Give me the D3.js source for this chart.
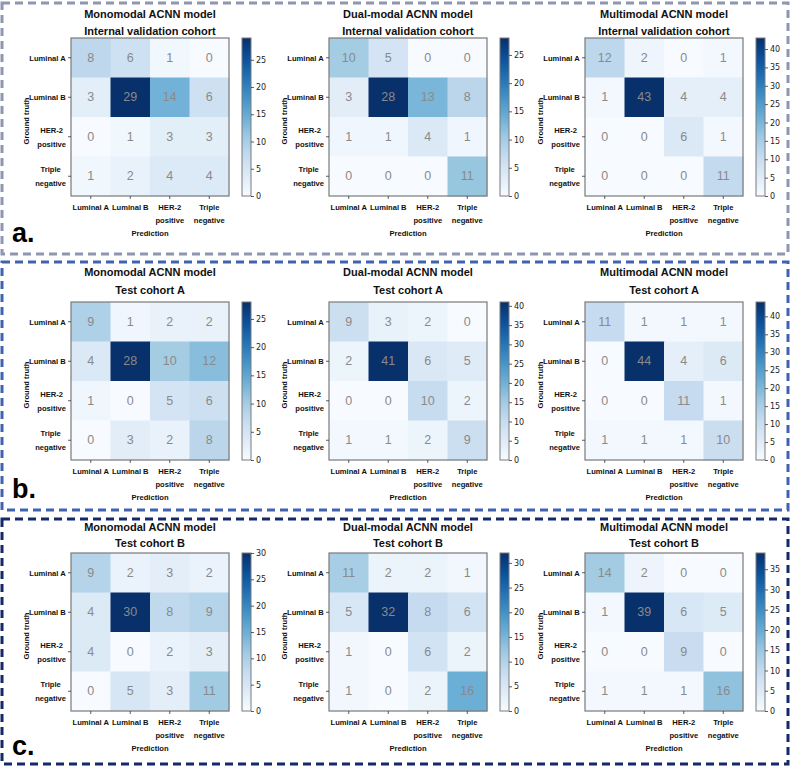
<!DOCTYPE html>
<html>
<head>
<meta charset="utf-8">
<script src="https://cdn.jsdelivr.net/npm/d3@7"></script>
<style>
  html, body { margin: 0; padding: 0; background: #fff; }
  svg { display: block; font-family: "Liberation Sans", Arial, sans-serif; }
</style>
</head>
<body>
<svg id="chart" width="791" height="768"></svg>
<script>
// ---------------- DATA ----------------
const categories = ["Luminal A", "Luminal B", "HER-2\npositive", "Triple\nnegative"];
const modelNames = ["Monomodal ACNN model", "Dual-modal ACNN model", "Multimodal ACNN model"];
const cohortNames = ["Internal validation cohort", "Test cohort A", "Test cohort B"];
const panelLetters = ["a.", "b.", "c."];
const xAxisTitle = "Prediction";
const yAxisTitle = "Ground truth";

const monoInternal  = [[8, 6, 1, 0], [3, 29, 14, 6], [0, 1, 3, 3], [1, 2, 4, 4]];
const dualInternal  = [[10, 5, 0, 0], [3, 28, 13, 8], [1, 1, 4, 1], [0, 0, 0, 11]];
const multiInternal = [[12, 2, 0, 1], [1, 43, 4, 4], [0, 0, 6, 1], [0, 0, 0, 11]];

const monoTestA  = [[9, 1, 2, 2], [4, 28, 10, 12], [1, 0, 5, 6], [0, 3, 2, 8]];
const dualTestA  = [[9, 3, 2, 0], [2, 41, 6, 5], [0, 0, 10, 2], [1, 1, 2, 9]];
const multiTestA = [[11, 1, 1, 1], [0, 44, 4, 6], [0, 0, 11, 1], [1, 1, 1, 10]];

const monoTestB  = [[9, 2, 3, 2], [4, 30, 8, 9], [4, 0, 2, 3], [0, 5, 3, 11]];
const dualTestB  = [[11, 2, 2, 1], [5, 32, 8, 6], [1, 0, 6, 2], [1, 0, 2, 16]];
const multiTestB = [[14, 2, 0, 0], [1, 39, 6, 5], [0, 0, 9, 0], [1, 1, 1, 16]];

const matrices = [
  [monoInternal, dualInternal, multiInternal],
  [monoTestA, dualTestA, multiTestA],
  [monoTestB, dualTestB, multiTestB]
];
const colorbarStep = 5;

// ---------------- STYLE / LAYOUT ----------------
const bluesStops = ["#f7fbff","#deebf7","#c6dbef","#9ecae1","#6baed6","#4292c6","#2171b5","#08519c","#08306b"];
const blues = d3.scaleLinear()
  .domain(d3.range(bluesStops.length).map(i => i / (bluesStops.length - 1)))
  .range(bluesStops).interpolate(d3.interpolateRgb);

const colX = [71, 329, 585];
const rowTop = [38, 302, 553];
const titleOffsets = [[-24, -7], [-30, -12], [-26, -10]];
const size = 158;
const cbGap = 13, cbW = 9;
const borderColors = ["#8e96b1", "#3f63b1", "#13296b"];
const borders = [[2, 3, 786, 251], [2, 262, 786, 248], [2, 519, 786, 245]];
const letterBaselines = [242, 498, 755];
const labelFont = 7.6;

const svg = d3.select("#chart");
const defs = svg.append("defs");

// Row borders
borders.forEach((b, r) => {
  svg.append("rect")
    .attr("x", b[0]).attr("y", b[1]).attr("width", b[2]).attr("height", b[3])
    .attr("fill", "none").attr("stroke", borderColors[r])
    .attr("stroke-width", 3).attr("stroke-dasharray", "8,5");
  svg.append("text")
    .attr("x", 12).attr("y", letterBaselines[r])
    .attr("font-size", 27).attr("font-weight", "bold").attr("fill", "#000")
    .text(panelLetters[r]);
});

function multiLine(sel, label, lineH) {
  const lines = label.split("\n");
  lines.forEach((ln, i) => {
    sel.append("tspan").attr("x", 0).attr("dy", i === 0 ? 0 : lineH).text(ln);
  });
}

matrices.forEach((rowMats, r) => {
  rowMats.forEach((mat, c) => {
    const x0 = colX[c], y0 = rowTop[r];
    const g = svg.append("g").attr("transform", `translate(${x0},${y0})`);
    const maxV = d3.max(mat.flat());
    const color = v => blues(v / maxV);

    const xs = d3.scaleBand().domain(d3.range(categories.length)).range([0, size]);
    const ys = d3.scaleBand().domain(d3.range(categories.length)).range([0, size]);

    // Cells
    mat.forEach((row, i) => {
      row.forEach((v, j) => {
        g.append("rect")
          .attr("x", xs(j)).attr("y", ys(i))
          .attr("width", xs.bandwidth() + 0.5).attr("height", ys.bandwidth() + 0.5)
          .attr("fill", color(v));
        g.append("text")
          .attr("x", xs(j) + xs.bandwidth() / 2)
          .attr("y", ys(i) + ys.bandwidth() / 2)
          .attr("text-anchor", "middle").attr("dominant-baseline", "central")
          .attr("font-size", 12.5).attr("fill", "#8a8a8a")
          .text(v);
      });
    });
    // Frame
    g.append("rect").attr("width", size).attr("height", size)
      .attr("fill", "none").attr("stroke", "#7a7a7a").attr("stroke-width", 1.2);

    // Y ticks and labels
    categories.forEach((cat, i) => {
      const cy = ys(i) + ys.bandwidth() / 2;
      g.append("line").attr("x1", -3).attr("x2", 0).attr("y1", cy).attr("y2", cy)
        .attr("stroke", "#333").attr("stroke-width", 0.8);
      const lines = cat.split("\n");
      const lineH = 14;
      const t = g.append("text")
        .attr("font-size", labelFont).attr("font-weight", "bold").attr("fill", "#111")
        .attr("text-anchor", "middle").attr("dominant-baseline", "central");
      multiLine(t, cat, lineH);
      const w = t.node().getBBox().width;
      const cx = -5 - w / 2;
      t.attr("transform", `translate(${cx},${cy - (lines.length - 1) * lineH / 2})`);
    });

    // X ticks and labels
    categories.forEach((cat, j) => {
      const cx = xs(j) + xs.bandwidth() / 2;
      g.append("line").attr("x1", cx).attr("x2", cx).attr("y1", size).attr("y2", size + 3)
        .attr("stroke", "#333").attr("stroke-width", 0.8);
      const t = g.append("text")
        .attr("transform", `translate(${cx},${size + 11})`)
        .attr("font-size", labelFont).attr("font-weight", "bold").attr("fill", "#111")
        .attr("text-anchor", "middle").attr("dominant-baseline", "central");
      multiLine(t, cat, 13);
    });

    // Axis titles
    g.append("text")
      .attr("x", size / 2).attr("y", size + 37)
      .attr("text-anchor", "middle").attr("dominant-baseline", "central")
      .attr("font-size", labelFont).attr("font-weight", "bold").attr("fill", "#111")
      .text(xAxisTitle);
    g.append("text")
      .attr("transform", `translate(${-45},${size / 2 + 4}) rotate(-90)`)
      .attr("text-anchor", "middle").attr("dominant-baseline", "central")
      .attr("font-size", labelFont).attr("font-weight", "bold").attr("fill", "#111")
      .text(yAxisTitle);

    // Titles
    g.append("text")
      .attr("x", size / 2).attr("y", titleOffsets[r][0])
      .attr("text-anchor", "middle").attr("dominant-baseline", "central")
      .attr("font-size", 11).attr("font-weight", "bold").attr("fill", "#111")
      .text(modelNames[c]);
    g.append("text")
      .attr("x", size / 2).attr("y", titleOffsets[r][1])
      .attr("text-anchor", "middle").attr("dominant-baseline", "central")
      .attr("font-size", 11).attr("font-weight", "bold").attr("fill", "#111")
      .text(cohortNames[r]);

    // Colorbar
    const gradId = `grad-${r}-${c}`;
    const grad = defs.append("linearGradient").attr("id", gradId)
      .attr("x1", 0).attr("x2", 0).attr("y1", 1).attr("y2", 0);
    d3.range(0, 1.0001, 0.05).forEach(t => {
      grad.append("stop").attr("offset", t).attr("stop-color", blues(t));
    });
    const cbx = size + cbGap;
    const cb = g.append("g").attr("transform", `translate(${cbx},0)`);
    cb.append("rect").attr("width", cbW).attr("height", size)
      .attr("fill", `url(#${gradId})`).attr("stroke", "#7a7a7a").attr("stroke-width", 1);
    const cy = d3.scaleLinear().domain([0, maxV]).range([size, 0]);
    const ax = cb.append("g").attr("transform", `translate(${cbW},0)`)
      .call(d3.axisRight(cy).tickValues(d3.range(0, maxV + 0.001, colorbarStep))
        .tickSize(3).tickPadding(2).tickFormat(d3.format("d")));
    ax.select(".domain").remove();
    ax.selectAll(".tick line").attr("stroke", "#333").attr("stroke-width", 0.8);
    ax.selectAll(".tick text").attr("font-size", 8).attr("fill", "#222")
      .attr("font-family", "'DejaVu Sans', sans-serif");
  });
});
</script>
</body>
</html>
